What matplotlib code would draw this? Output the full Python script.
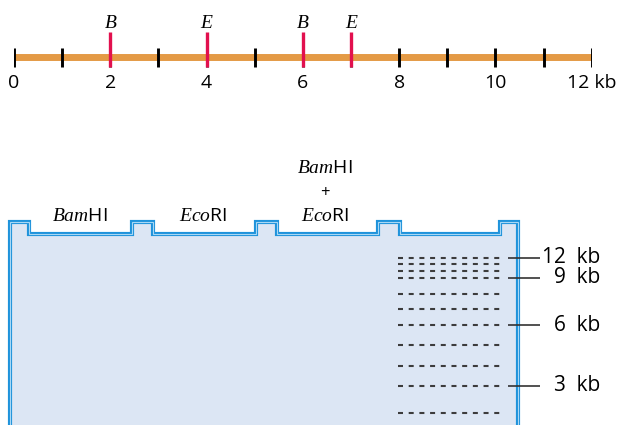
import numpy as np
import matplotlib
matplotlib.use('Agg')
import matplotlib.pyplot as plt
from matplotlib.transforms import offset_copy

plt.rcParams['font.family'] = 'Open Sans'
plt.rcParams['mathtext.fontset'] = 'custom'
plt.rcParams['mathtext.it'] = 'Liberation Serif:italic'
plt.rcParams['mathtext.rm'] = 'Open Sans'
plt.rcParams['lines.scale_dashes'] = False

# restriction map (kb)
map_ticks = list(range(0, 13))
map_label_pos = [0, 2, 4, 6, 8, 10, 12]
map_labels = ['0', '2', '4', '6', '8', '10', '12 kb']
bam_sites = [2, 6]
eco_sites = [4, 7]

# gel
ladder_kb = [12, 11, 10, 9, 8, 7, 6, 5, 4, 3, 2]
ladder_marked = [12, 9, 6, 3]

W, H = 618, 425


def px_box(x0, y0, x1, y1):
    # pixel box (top-left origin) -> figure fraction
    return [x0 / W, 1 - y1 / H, (x1 - x0) / W, (y1 - y0) / H]


# stylised migration scale: 1 unit/kb above 9 kb, 2 to 6 kb, 3 to 3 kb, 4 below
knot_kb = np.array([0, 3, 6, 9, 12, 20])
knot_pos = np.array([-34, -22, -13, -6, -3, 5])


def fwd(s):
    return np.interp(s, knot_kb, knot_pos)


def inv(y):
    return np.interp(y, knot_pos, knot_kb)


fig = plt.figure(figsize=(W / 100, H / 100), dpi=100)

# background / gel shape in pixel coordinates
ax_bg = fig.add_axes([0, 0, 1, 1])
ax_bg.set_xlim(0, W)
ax_bg.set_ylim(H, 0)
ax_bg.axis('off')

xs = [10, 10, 29, 29, 132, 132, 153, 153, 256, 256, 277, 277, 378, 378, 400, 400, 500, 500, 518, 518]
ys = [440, 222, 222, 234, 234, 222, 222, 234, 234, 222, 222, 234, 234, 222, 222, 234, 234, 222, 222, 440]
ax_bg.fill(xs, ys, color='#DCE6F4', lw=0, zorder=1)
ax_bg.plot(xs, ys, color='#1F93DB', lw=3.0, solid_joinstyle='miter', zorder=2)
ax_bg.plot(xs, ys, color='#A8D8F5', lw=0.8, solid_joinstyle='miter', zorder=3)

lane_x = [80, 203, 325]
fs_lane = 14
ax_bg.text(lane_x[0], 221, r'$\mathit{Bam}$HI', ha='center', va='baseline', fontsize=fs_lane)
ax_bg.text(lane_x[1], 221, r'$\mathit{Eco}$RI', ha='center', va='baseline', fontsize=fs_lane)
ax_bg.text(lane_x[2], 173, r'$\mathit{Bam}$HI', ha='center', va='baseline', fontsize=fs_lane)
ax_bg.text(lane_x[2], 193, '+', ha='center', va='center', fontsize=12)
ax_bg.text(lane_x[2], 221, r'$\mathit{Eco}$RI', ha='center', va='baseline', fontsize=fs_lane)

# gel bands
ax_gel = fig.add_axes(px_box(0, 257.7, W, 413))
ax_gel.set_yscale('function', functions=(fwd, inv))
ax_gel.set_xlim(0, W)
ax_gel.set_ylim(2, 12)
ax_gel.axis('off')
ax_gel.patch.set_alpha(0)
ax_gel.hlines(ladder_kb, 398, 500, colors='#3c3c3c', lw=1.5,
              linestyles=(0, (3.6, 4.1)), capstyle='butt', clip_on=False)
ax_gel.hlines(ladder_marked, 508, 540, colors='#333333', lw=1.2, clip_on=False)
lab_tr = offset_copy(ax_gel.transData, fig=fig, x=0, y=-5.3, units='dots')
for s in ladder_marked:
    ax_gel.text(600, s, f'{s}  kb', ha='right', va='baseline', fontsize=15,
                transform=lab_tr, clip_on=False)

# restriction map
ax_map = fig.add_axes(px_box(14, 27, 591.7, 87))
ax_map.set_xlim(0, 12)
ax_map.set_ylim(-1, 1)
ax_map.axis('off')
ax_map.patch.set_alpha(0)
ax_map.plot([0, 12], [0, 0], color='#E49A45', lw=5, solid_capstyle='butt', zorder=1)
ax_map.vlines(map_ticks, -0.323, 0.29, colors='black', lw=2.1, zorder=2)
ax_map.vlines(bam_sites + eco_sites, -0.323, 0.833, colors='#E2104E', lw=2.4, zorder=3)
for s in bam_sites:
    ax_map.text(s, 0.957, 'B', ha='center', va='baseline', fontsize=14,
                family='Liberation Serif', style='italic', clip_on=False)
for s in eco_sites:
    ax_map.text(s, 0.957, 'E', ha='center', va='baseline', fontsize=14,
                family='Liberation Serif', style='italic', clip_on=False)
for p, t in zip(map_label_pos, map_labels):
    ax_map.text(p, -1.05, t, ha='center', va='baseline', fontsize=14, clip_on=False)

fig.savefig('out.png', dpi=100)
